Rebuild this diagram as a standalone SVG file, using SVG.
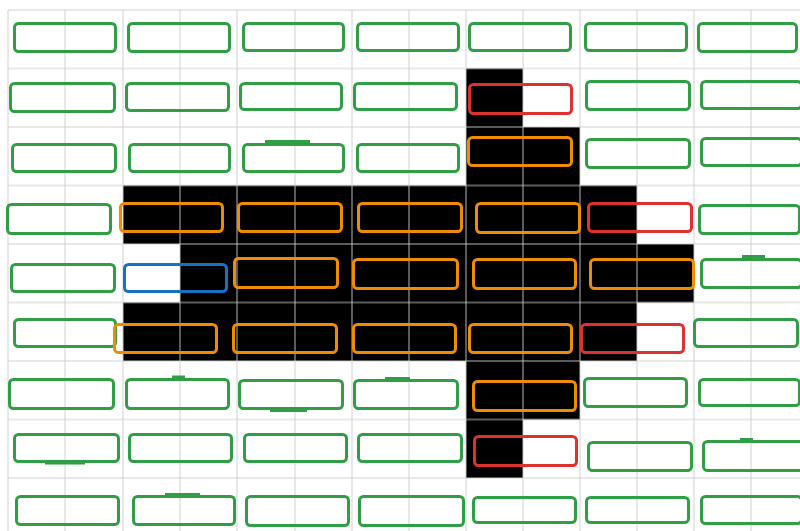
<svg xmlns="http://www.w3.org/2000/svg" width="800" height="531" viewBox="0 0 800 531">
<style>
.grid line{stroke:rgb(205,205,205);stroke-opacity:0.45;stroke-width:2}
.n rect{fill:none;stroke-width:3}
.g rect{stroke:#2f9e44}
.o rect{stroke:#f08c00}
.r rect{stroke:#e03131}
.b rect{stroke:#1971c2}
</style>
<rect width="800" height="531" fill="#fff"/>
<g id="black-shape">
<path d="M466,68.5 H523 V127 H580 V185.5 H637 V244 H694 V302.5 H637 V361 H580 V419.5 H523 V478 H466 V361 H123 V302.5 H180 V244 H123 V185.5 H466 Z" fill="#000"/>
</g>
<g class="grid" id="grid">
<line x1="8" y1="10" x2="8" y2="531"/><line x1="65" y1="10" x2="65" y2="531"/><line x1="123" y1="10" x2="123" y2="531"/><line x1="180" y1="10" x2="180" y2="531"/><line x1="237" y1="10" x2="237" y2="531"/><line x1="295" y1="10" x2="295" y2="531"/><line x1="352" y1="10" x2="352" y2="531"/><line x1="409" y1="10" x2="409" y2="531"/><line x1="466" y1="10" x2="466" y2="531"/><line x1="523" y1="10" x2="523" y2="531"/><line x1="580" y1="10" x2="580" y2="531"/><line x1="637" y1="10" x2="637" y2="531"/><line x1="694" y1="10" x2="694" y2="531"/><line x1="751" y1="10" x2="751" y2="531"/>
<line x1="8" y1="10" x2="800" y2="10"/><line x1="8" y1="68.5" x2="800" y2="68.5"/><line x1="8" y1="127" x2="800" y2="127"/><line x1="8" y1="185.5" x2="800" y2="185.5"/><line x1="8" y1="244" x2="800" y2="244"/><line x1="8" y1="302.5" x2="800" y2="302.5"/><line x1="8" y1="361" x2="800" y2="361"/><line x1="8" y1="419.5" x2="800" y2="419.5"/><line x1="8" y1="478" x2="800" y2="478"/>
</g>
<g id="nodes">
<g id="r0c0" class="n g"><rect x="14.5" y="23.5" width="101" height="28" rx="4"/></g>
<g id="r0c1" class="n g"><rect x="128.5" y="23.5" width="101" height="28" rx="4"/></g>
<g id="r0c2" class="n g"><rect x="243.5" y="23.5" width="100" height="27" rx="4"/></g>
<g id="r0c3" class="n g"><rect x="357.5" y="23.5" width="101" height="27" rx="4"/></g>
<g id="r0c4" class="n g"><rect x="469.5" y="23.5" width="101" height="27" rx="4"/></g>
<g id="r0c5" class="n g"><rect x="585.5" y="23.5" width="101" height="27" rx="4"/></g>
<g id="r0c6" class="n g"><rect x="698.5" y="23.5" width="98" height="28" rx="4"/></g>

<g id="r1c0" class="n g"><rect x="10.5" y="83.5" width="104" height="28" rx="4"/></g>
<g id="r1c1" class="n g"><rect x="126.5" y="83.5" width="102" height="27" rx="4"/></g>
<g id="r1c2" class="n g"><rect x="240.5" y="83.5" width="101" height="26" rx="4"/></g>
<g id="r1c3" class="n g"><rect x="354.5" y="83.5" width="102" height="26" rx="4"/></g>
<g id="r1c4" class="n r"><rect x="469.5" y="84.5" width="102" height="29" rx="4"/></g>
<g id="r1c5" class="n g"><rect x="586.5" y="81.5" width="103" height="28" rx="4"/></g>
<g id="r1c6" class="n g"><rect x="701.5" y="81.5" width="100" height="27" rx="4"/></g>

<g id="r2c0" class="n g"><rect x="12.5" y="144.5" width="103" height="27" rx="4"/></g>
<g id="r2c1" class="n g"><rect x="129.5" y="144.5" width="100" height="27" rx="4"/></g>
<g id="r2c2" class="n g"><rect x="243.5" y="144.5" width="100" height="27" rx="4"/><line x1="265" y1="141.5" x2="310" y2="141.5" stroke="#2f9e44" stroke-width="3"/></g>
<g id="r2c3" class="n g"><rect x="357.5" y="144.5" width="101" height="27" rx="4"/></g>
<g id="r2c4" class="n o"><rect x="468.5" y="137.5" width="103" height="28" rx="4"/></g>
<g id="r2c5" class="n g"><rect x="586.5" y="139.5" width="103" height="28" rx="4"/></g>
<g id="r2c6" class="n g"><rect x="701.5" y="138.5" width="100" height="27" rx="4"/></g>

<g id="r3c0" class="n g"><rect x="7.5" y="204.5" width="103" height="29" rx="4"/></g>
<g id="r3c1" class="n o"><rect x="120.5" y="203.5" width="102" height="28" rx="4"/></g>
<g id="r3c2" class="n o"><rect x="238.5" y="203.5" width="103" height="28" rx="4"/></g>
<g id="r3c3" class="n o"><rect x="358.5" y="203.5" width="103" height="28" rx="4"/></g>
<g id="r3c4" class="n o"><rect x="476.5" y="203.5" width="103" height="29" rx="4"/></g>
<g id="r3c5" class="n r"><rect x="588.5" y="203.5" width="103" height="28" rx="4"/></g>
<g id="r3c6" class="n g"><rect x="699.5" y="205.5" width="100" height="28" rx="4"/></g>

<g id="r4c0" class="n g"><rect x="11.5" y="264.5" width="103" height="27" rx="4"/></g>
<g id="r4c1" class="n b"><rect x="124.5" y="264.5" width="102" height="27" rx="4"/></g>
<g id="r4c2" class="n o"><rect x="234.5" y="258.5" width="103" height="29" rx="4"/></g>
<g id="r4c3" class="n o"><rect x="353.5" y="259.5" width="104" height="29" rx="4"/></g>
<g id="r4c4" class="n o"><rect x="473.5" y="259.5" width="102" height="29" rx="4"/></g>
<g id="r4c5" class="n o"><rect x="590.5" y="259.5" width="103" height="29" rx="4"/></g>
<g id="r4c6" class="n g"><rect x="701.5" y="259.5" width="100" height="28" rx="4"/><line x1="742" y1="256.5" x2="765" y2="256.5" stroke="#2f9e44" stroke-width="3"/></g>

<g id="r5c0" class="n g"><rect x="14.5" y="319.5" width="101" height="27" rx="4"/></g>
<g id="r5c1" class="n o"><rect x="114.5" y="324.5" width="102" height="28" rx="4"/></g>
<g id="r5c2" class="n o"><rect x="233.5" y="324.5" width="103" height="28" rx="4"/></g>
<g id="r5c3" class="n o"><rect x="353.5" y="324.5" width="102" height="28" rx="4"/></g>
<g id="r5c4" class="n o"><rect x="469.5" y="324.5" width="102" height="28" rx="4"/></g>
<g id="r5c5" class="n r"><rect x="581.5" y="324.5" width="102" height="28" rx="4"/></g>
<g id="r5c6" class="n g"><rect x="694.5" y="319.5" width="103" height="27" rx="4"/></g>

<g id="r6c0" class="n g"><rect x="9.5" y="379.5" width="104" height="29" rx="4"/></g>
<g id="r6c1" class="n g"><rect x="126.5" y="379.5" width="102" height="29" rx="4"/><line x1="172" y1="377" x2="185" y2="377" stroke="#2f9e44" stroke-width="3"/></g>
<g id="r6c2" class="n g"><rect x="239.5" y="380.5" width="103" height="28" rx="4"/><line x1="270" y1="410.5" x2="307" y2="410.5" stroke="#2f9e44" stroke-width="3"/></g>
<g id="r6c3" class="n g"><rect x="354.5" y="380.5" width="103" height="28" rx="4"/><line x1="385" y1="378.5" x2="410" y2="378.5" stroke="#2f9e44" stroke-width="3"/></g>
<g id="r6c4" class="n o"><rect x="473.5" y="381.5" width="102" height="29" rx="4"/></g>
<g id="r6c5" class="n g"><rect x="584.5" y="378.5" width="102" height="28" rx="4"/></g>
<g id="r6c6" class="n g"><rect x="699.5" y="379.5" width="100" height="26" rx="4"/></g>

<g id="r7c0" class="n g"><rect x="14.5" y="434.5" width="104" height="27" rx="4"/><line x1="45" y1="463" x2="85" y2="463" stroke="#2f9e44" stroke-width="3"/></g>
<g id="r7c1" class="n g"><rect x="129.5" y="434.5" width="102" height="27" rx="4"/></g>
<g id="r7c2" class="n g"><rect x="244.5" y="434.5" width="102" height="27" rx="4"/></g>
<g id="r7c3" class="n g"><rect x="358.5" y="434.5" width="103" height="27" rx="4"/></g>
<g id="r7c4" class="n r"><rect x="474.5" y="436.5" width="102" height="29" rx="4"/></g>
<g id="r7c5" class="n g"><rect x="588.5" y="442.5" width="103" height="28" rx="4"/></g>
<g id="r7c6" class="n g"><rect x="703.5" y="441.5" width="100" height="29" rx="4"/><line x1="740" y1="439.5" x2="753" y2="439.5" stroke="#2f9e44" stroke-width="3"/></g>

<g id="r8c0" class="n g"><rect x="16.5" y="496.5" width="102" height="28" rx="4"/></g>
<g id="r8c1" class="n g"><rect x="133.5" y="496.5" width="101" height="28" rx="4"/><line x1="165" y1="494.5" x2="200" y2="494.5" stroke="#2f9e44" stroke-width="3"/></g>
<g id="r8c2" class="n g"><rect x="246.5" y="496.5" width="102" height="29" rx="4"/></g>
<g id="r8c3" class="n g"><rect x="359.5" y="496.5" width="104" height="29" rx="4"/></g>
<g id="r8c4" class="n g"><rect x="473.5" y="497.5" width="102" height="25" rx="4"/></g>
<g id="r8c5" class="n g"><rect x="586.5" y="497.5" width="102" height="25" rx="4"/></g>
<g id="r8c6" class="n g"><rect x="701.5" y="496.5" width="100" height="27" rx="4"/></g>
</g>
</svg>
